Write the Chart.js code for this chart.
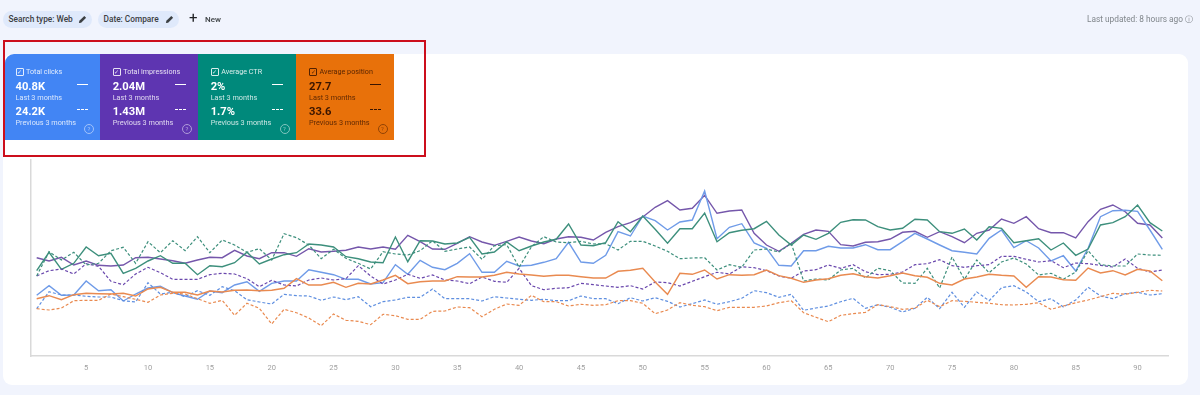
<!DOCTYPE html>
<html lang="en">
<head>
  <meta charset="UTF-8">
  <title>Performance</title>
  <script src="https://cdn.jsdelivr.net/npm/chart.js"></script>
  <style>
    html, body { margin: 0; padding: 0; }
    body { width: 1200px; height: 395px; background: #f1f4fd; font-family: Roboto, sans-serif; overflow: hidden; position: relative; }
    .pill { position: absolute; top: 11px; height: 17px; line-height: 17px; border-radius: 9px; background: #dfe9fb; color: #3c4043; font-size: 8.3px; font-weight: 500; padding-left: 5.5px; box-sizing: border-box; }
    .pill svg { position: absolute; top: 4px; right: 5px; }
    #newBtn { position: absolute; left: 189px; top: 11px; height: 17px; line-height: 17px; font-size: 8px; font-weight: 500; color: #3c4043; }
    #newBtn span { font-size: 15px; font-weight: 400; position: absolute; left: 0; top: -1px; color: #202124; }
    #newBtn b { font-weight: 500; margin-left: 16px; }
    #updated { position: absolute; right: 7px; top: 12px; font-size: 8.3px; color: #80868b; line-height: 15px; }
    #card { position: absolute; left: 3px; top: 54px; width: 1185px; height: 331px; background: #fff; border-radius: 9px; }
    #chartWrap { position: absolute; left: 0; top: 0; width: 1200px; height: 395px; }
    #perfChart { filter: blur(.3px); }
    #tiles { position: absolute; left: 5px; top: 54px; width: 388.5px; height: 86px; display: flex; border-top-left-radius: 9px; overflow: hidden; }
    .tile { position: relative; height: 86px; color: #fff; }
    .tile div { position: absolute; white-space: nowrap; }
    .tile .name { top: 13px; font-size: 7.2px; line-height: 9px; opacity: .85; }
    .tile .box { top: 14px; width: 6px; height: 6px; border: 1px solid currentColor; border-radius: 1px; font-size: 6px; line-height: 6px; text-align: center; opacity: .85; }
    .tile .val { font-size: 11.2px; font-weight: 700; line-height: 14px; }
    .tile .sub { font-size: 7.3px; line-height: 9px; opacity: .8; }
    .tile .solid { right: 12.5px; top: 30px; width: 11px; border-top: 1.5px solid currentColor; }
    .tile .dots { right: 12.5px; top: 55px; width: 11px; border-top: 1.5px dashed currentColor; }
    .tile .help { right: 6px; top: 70px; width: 8px; height: 8px; border: 1px solid currentColor; border-radius: 50%; font-size: 6px; line-height: 8px; text-align: center; opacity: .5; }
    #redBox { position: absolute; left: 3px; top: 40px; width: 419px; height: 113px; border: 2px solid #cc0e1c; }
  </style>
</head>
<body>
  <div id="card"></div>
  <div id="chartWrap"><canvas id="perfChart" width="1200" height="395"></canvas></div>

  <div class="pill" style="left:3px;width:89px">Search type: Web
    <svg width="9" height="9" viewBox="0 0 10 10"><path d="M1 9l.5-2.5L7 1l2 2-5.5 5.5z" fill="#3c4043"/></svg></div>
  <div class="pill" style="left:98px;width:81px">Date: Compare
    <svg width="9" height="9" viewBox="0 0 10 10"><path d="M1 9l.5-2.5L7 1l2 2-5.5 5.5z" fill="#3c4043"/></svg></div>
  <div id="newBtn"><span>+</span><b>New</b></div>
  <div id="updated">Last updated: 8 hours ago &#9432;</div>

  <div id="tiles"></div>
  <div id="redBox"></div>

  <script>
    const days = [1,2,3,4,5,6,7,8,9,10,11,12,13,14,15,16,17,18,19,20,21,22,23,24,25,26,27,28,29,30,31,32,33,34,35,36,37,38,39,40,41,42,43,44,45,46,47,48,49,50,51,52,53,54,55,56,57,58,59,60,61,62,63,64,65,66,67,68,69,70,71,72,73,74,75,76,77,78,79,80,81,82,83,84,85,86,87,88,89,90,91,92];
    const tickLabels = [5,10,15,20,25,30,35,40,45,50,55,60,65,70,75,80,85,90];

    // values are relative heights, the report has no y axis to read from
    const clicksNow = [60.7,70.3,60.7,61,75,65.3,66.3,55,62,68,69.7,63.3,60,56.7,65,63.3,71,74.3,64.7,72.7,75,75,86.3,83.7,81.3,76.7,76.7,72,73.3,91.3,81.7,95.7,88.7,86.3,92.7,102.3,83.7,83.7,94.7,90,90.7,93.7,97.3,113.7,94,92.7,100.7,124.3,120,140,135.3,126,134,136,165,117.3,128.7,132.3,113,107.7,90.7,90,105.3,105.3,109.7,108,108,111.3,106.3,106.3,114.3,122.7,117,111,105.3,103.7,102,117.7,126,108.3,115.3,108,95,100.3,85,107.7,139.3,145.3,145.7,144.7,126,106.7];
    const clicksPrev = [47.3,64.3,61,61,59.7,59,59,55.3,54,73.3,62,63.7,59.3,65.3,60.7,69.3,65.3,56.3,54,52,61.7,60.3,60,55.7,59,56.3,59.3,49.3,54.3,56,58.7,58.7,67,57.3,57.3,57.3,55,59.3,58,56.7,55.7,56.7,55.3,55.3,60,57.3,57.3,52.3,58.3,55,58.3,54.7,49,52.3,56,51.7,54.3,57.7,65.3,63.3,58.7,61.7,45.7,48,50,54.3,57.7,47.7,51.3,48.7,44,47.7,58.7,47.3,63.7,48.7,64,55.3,68.3,70.3,64,54.3,57.3,49,56,68.7,60,57.3,62.3,63.7,61,62.3];
    const imprNow = [98.3,95,98.7,91,95,90.7,90,91,98.3,98.7,97,95.3,92.7,96,98.7,98.3,105.7,100,97.3,103.3,103.3,99.7,107.3,104,104.7,105.7,109,107,109,106.7,120.7,114.3,107,106.7,112.7,119.3,114,110.7,114.7,119,115,112.3,117,119.3,118.7,116,123.7,129.3,133.3,139,148.7,155.3,146,147.7,160.7,142.7,145,146,122.7,111,104.7,112.7,121.7,126,124.7,111.3,110,113.7,114.3,117,123.7,124.7,118.7,124.3,119.3,113.3,122.7,126,137,132.7,139.3,127.3,123.3,123.3,118,134.3,146.7,151,144.3,132.7,131,118];
    const imprPrev = [80,85.3,87,82,92.3,89.7,74.7,71.3,82,88.7,83.3,76.7,76.7,76.7,81.3,82.7,82,77.3,69.3,75.7,71,70,76,78,76,77.3,90.3,80,72,76,81.7,77.7,81,76,75,72.3,79,74.7,73.7,87.7,70.3,66.3,67.7,68.3,72.7,71.3,70,68.7,70.3,67,74,73.3,70,74.7,79.3,83.7,82,89.3,88.3,85.3,80,77.7,85,86.3,91,87.7,91.3,84.3,81.3,81.7,84,91.3,92.3,96.3,90.3,88.7,90.3,91.3,99.7,99.7,96.7,94,95.3,88.3,93,92.3,90.7,89,97,87.7,84,86];
    const ctrNow = [85.3,103.7,86.7,92.7,109,100.3,102.7,82.7,87.7,95,100.3,92.7,92.7,81.3,90.3,89.3,93.3,103.7,92,97,101.3,103.3,112,111,109,99.3,97.3,94,93.3,119,94.3,115.3,115,112,113,118.7,102,104,114,105.3,110,114,116.7,132,111,110.3,113.3,134.3,124.3,140,126.7,112.7,127.3,127.3,143,114.3,123.3,125.7,127.3,134.7,121,111,121,116.7,122.7,133.7,136.3,136,129.3,126,127.7,136.7,136,124.3,122.7,127,116,129.3,127.7,113.3,115.3,117.3,106,113,100.7,107,131,133.3,139.3,151,133.3,125];
    const ctrPrev = [80,104.3,96,103.7,91,92.7,105.3,108.7,92.7,114.3,103.3,115.3,105.3,119.3,103.3,116,111,103.7,107.3,96,122.3,118.3,111,97.3,106.7,97.7,92.7,87,104.3,102,101,105.3,115.3,104.7,107,109,96.7,110.3,111.3,88.7,109.3,119.3,114,113.3,114.7,112,112.3,106,114.7,114.7,110,104.7,97.3,98,98.3,86,91.3,88.7,106,107,104,112.7,75,77,76,86,87.7,78,87.7,85.3,73,72.7,87.7,68,99,76.7,96,83.3,94,98,92,81,82.7,76.7,84,105.3,91.3,90,90,102,101,100.7];
    const posNow = [57.3,60.3,56.3,61.3,62.7,62.3,62,62.7,60,67,68.7,63.7,63.7,61,65,64,65.7,66,65.3,65.7,67.7,77.3,71,71,73.7,68.7,72.7,72,76,80.7,72.3,74.3,75,75,79.3,79,79,80.7,83.7,82,81,79.7,80.7,80.7,79.3,78,78,84.7,85.7,87.7,74,61.7,82.7,81.7,86,77,81.3,80.7,81.3,86,80.3,77.7,73.7,76,77.3,80.7,82.3,79.3,78,80.3,83,80.3,78.7,72.7,71,77,79,81.7,80.7,80,68.7,79.3,79,76.3,75.7,88,83,85.3,81,86.7,85,75.3];
    const posPrev = [47.3,46,48,55.3,55.7,55.7,62,59.3,56.7,53.7,61,62.7,62,57.3,52.7,55.7,40.7,52.7,47.7,32,46.7,43.3,38,30.3,42,35.7,34.7,31.3,41.7,40.3,36.7,36.7,44.7,45,49,48.3,39.3,46.7,52,50.7,60.7,54.3,54.3,50,51.7,50.7,51.3,55.3,55.3,52.7,42.3,46,53.3,50.7,49.3,45.3,48.7,48.7,48.7,50,53.3,55.3,43.3,38.7,34.3,40.7,42.3,43.7,51.3,49.3,46.7,47.7,55.7,49.3,55.3,54.7,53.7,52.7,51.3,51,51.7,53.3,46.7,50,53.3,56,59.3,62.7,61.7,63.7,65.7,65];

    const tileNames = ["Total clicks", "Total impressions", "Average CTR", "Average position"];
    const tileNow = ["40.8K", "2.04M", "2%", "27.7"];
    const tilePrev = ["24.2K", "1.43M", "1.7%", "33.6"];
    const tileColors = ["#4285f4", "#5e35b1", "#00897b", "#e8710a"];
    const tileWidths = [95, 98, 97.5, 98];
    const tileInset = [10.5, 12.7, 12.7, 13.5];
    const nowLabel = "Last 3 months";
    const prevLabel = "Previous 3 months";

    const tiles = document.getElementById("tiles");
    tileNames.forEach((name, i) => {
      const t = document.createElement("div");
      t.className = "tile";
      t.style.width = tileWidths[i] + "px";
      t.style.background = tileColors[i];
      if (i == 3) t.style.color = "#3a1500";
      const x = tileInset[i];
      t.innerHTML = `<div class="box" style="left:${x}px">&#10003;</div><div class="name" style="left:${x + 10.5}px">${name}</div>
        <div class="val" style="left:${x}px;top:26px">${tileNow[i]}</div><div class="sub" style="left:${x}px;top:39px">${nowLabel}</div>
        <div class="val" style="left:${x}px;top:51px">${tilePrev[i]}</div><div class="sub" style="left:${x}px;top:64px">${prevLabel}</div>
        <div class="solid"></div><div class="dots"></div><div class="help">?</div>`;
      tiles.appendChild(t);
    });

    function line(label, data, color, dashed) {
      return {
        label: label,
        data: data,
        borderColor: color,
        borderWidth: dashed ? 1.2 : 1.4,
        borderDash: dashed ? [3, 2] : [],
        pointRadius: 0,
        tension: 0,
        fill: false
      };
    }

    new Chart(document.getElementById("perfChart"), {
      type: "line",
      data: {
        labels: days,
        datasets: [
          line("Position prev", posPrev, "#e98a50", true),
          line("Position", posNow, "#e98a50", false),
          line("Clicks prev", clicksPrev, "#5f8fe0", true),
          line("CTR prev", ctrPrev, "#3d8f7c", true),
          line("Impressions prev", imprPrev, "#6a48ad", true),
          line("CTR", ctrNow, "#3d8f7c", false),
          line("Clicks", clicksNow, "#6f9be8", false),
          line("Impressions", imprNow, "#7557ab", false)
        ]
      },
      options: {
        responsive: false,
        animation: false,
        layout: { padding: { left: 30.5, right: 31.5, top: 160, bottom: 0 } },
        plugins: { legend: { display: false }, tooltip: { enabled: false } },
        scales: {
          x: {
            type: "category",
            offset: true,
            afterFit: (scale) => { scale.height = 39; },
            grid: { display: false, drawTicks: false },
            border: { display: true, color: "#d9d9d9", width: 1.5 },
            ticks: {
              autoSkip: false,
              maxRotation: 0,
              padding: 8,
              color: "#a0a0a0",
              font: { family: "Roboto", size: 7.5 },
              callback: function (v) {
                const lab = this.getLabelForValue(v);
                return tickLabels.includes(lab) ? String(lab) : "";
              }
            }
          },
          y: {
            min: 0,
            max: 196,
            afterFit: (scale) => { scale.width = 0; },
            grid: { display: false, drawTicks: false },
            border: { display: true, color: "#d9d9d9", width: 1.5 },
            ticks: { display: false }
          }
        }
      }
    });
  </script>
</body>
</html>
